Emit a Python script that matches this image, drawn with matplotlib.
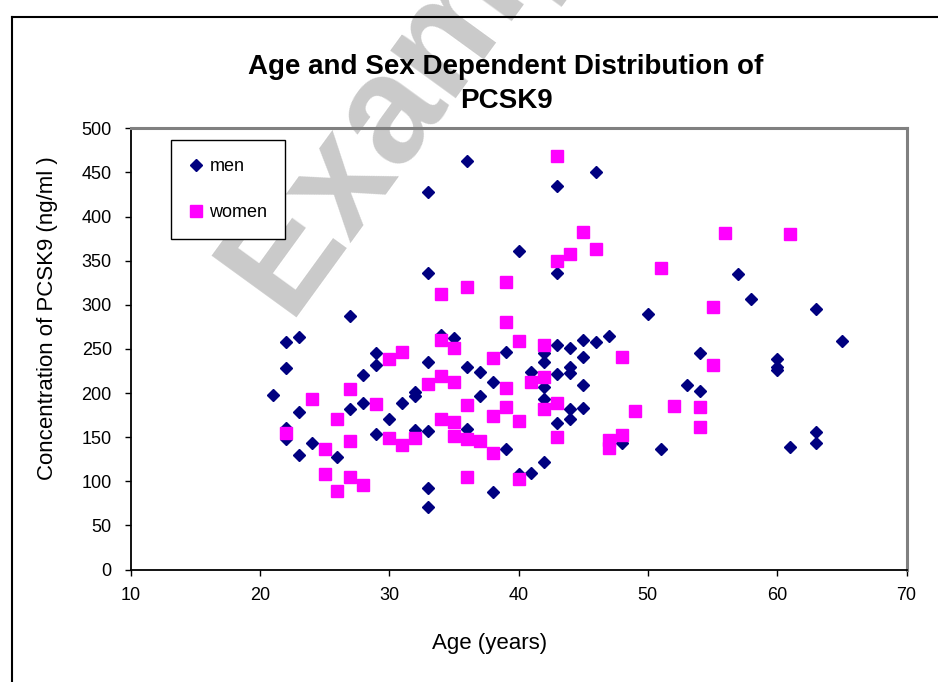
import matplotlib
matplotlib.use("Agg")
import matplotlib.pyplot as plt
from matplotlib.lines import Line2D

# ---------------- data ----------------
men_age = [21, 22, 22, 22, 22, 23, 23, 23, 24, 26, 27, 27, 28, 28, 29, 29, 29, 30, 31,
           32, 32, 32, 33, 33, 33, 33, 33, 33, 34, 35, 36, 36, 36, 37, 37, 38, 38, 39, 39,
           40, 40, 41, 41, 42, 42, 42, 42, 42, 43, 43, 43, 43, 43, 44, 44, 44, 44, 44,
           45, 45, 45, 45, 46, 46, 47, 48, 50, 51, 53, 54, 54, 57, 58, 60, 60, 60, 61,
           63, 63, 63, 65]
men_pcsk9 = [198, 258, 228, 160, 148, 263, 178, 130, 143, 128, 287, 182, 220, 189, 245, 232, 154, 170, 189,
             201, 197, 158, 428, 336, 235, 157, 92, 71, 266, 262, 463, 229, 159, 224, 197, 213, 88, 247, 136,
             361, 108, 224, 109, 245, 235, 207, 193, 122, 435, 336, 254, 221, 166, 251, 230, 223, 182, 171,
             260, 241, 209, 183, 450, 258, 265, 143, 290, 137, 209, 245, 202, 335, 307, 239, 229, 226, 139,
             295, 156, 143, 259]

women_age = [22, 24, 25, 25, 26, 26, 27, 27, 27, 28, 29, 30, 30, 31, 31, 32, 33, 34, 34, 34, 34,
             35, 35, 35, 35, 36, 36, 36, 36, 37, 38, 38, 38, 39, 39, 39, 39, 40, 40, 40, 41,
             42, 42, 42, 43, 43, 43, 43, 44, 45, 46, 47, 47, 48, 48, 49, 51, 52, 54, 54,
             55, 55, 56, 61]
women_pcsk9 = [155, 193, 136, 108, 170, 89, 205, 146, 105, 96, 188, 238, 149, 246, 141, 149, 210, 312, 260, 219, 171,
               251, 212, 167, 151, 320, 186, 148, 105, 146, 240, 174, 132, 326, 281, 206, 184, 259, 168, 103, 212,
               254, 218, 182, 469, 350, 189, 150, 358, 383, 363, 147, 138, 241, 152, 180, 342, 185, 184, 162,
               298, 232, 381, 380]

x_ticks = [10, 20, 30, 40, 50, 60, 70]
y_ticks = [0, 50, 100, 150, 200, 250, 300, 350, 400, 450, 500]

title = "Age and Sex Dependent Distribution of\nPCSK9"
xlabel = "Age (years)"
ylabel = "Concentration of PCSK9 (ng/ml )"

# ---------------- style ----------------
plt.rcParams['font.family'] = ['Liberation Sans', 'DejaVu Sans']

W, H = 938, 682
fig = plt.figure(figsize=(W / 100, H / 100), dpi=100)
fig.patch.set_facecolor('white')

def fx(px):
    return px / W

def fy(py):
    return 1 - py / H

# watermark
fig.text(fx(440), fy(40), "Example", fontsize=110, fontweight='bold', color='#cacaca',
         rotation=54, ha='center', va='center', zorder=-5)

# outer frame (left and top edges visible)
fig.add_artist(Line2D([fx(11.5), fx(11.5)], [fy(17), 0], color='black', lw=1.5, transform=fig.transFigure))
fig.add_artist(Line2D([fx(11.5), 1], [fy(17), fy(17)], color='black', lw=1.5, transform=fig.transFigure))

ax = fig.add_axes([fx(130.5), fy(569.5), fx(906.5) - fx(130.5), fy(128.3) - fy(569.5)])
ax.set_facecolor('none')

ax.plot(men_age, men_pcsk9, linestyle='none', marker='D', markersize=6.6,
        color='#000080', markeredgecolor='#000080', label='men', zorder=3)
ax.plot(women_age, women_pcsk9, linestyle='none', marker='s', markersize=8.4,
        color='#FF00FF', markeredgecolor='#FF00FF', label='women', zorder=3)

ax.set_xlim(10, 70)
ax.set_ylim(0, 500)
ax.set_xticks(x_ticks)
ax.set_yticks(y_ticks)
ax.tick_params(axis='both', labelsize=13, direction='out', length=4.5, width=1, colors='black')
ax.tick_params(axis='y', pad=9)
ax.tick_params(axis='x', pad=8)

for s in ['left', 'bottom']:
    ax.spines[s].set_color('black')
    ax.spines[s].set_linewidth(1.3)
for s in ['top', 'right']:
    ax.spines[s].set_color('#808080')
    ax.spines[s].set_linewidth(2.2)

# title and axis labels
fig.text(fx(506), fy(84), title, fontsize=20, fontweight='bold', ha='center', va='center',
         linespacing=1.4)
fig.text(fx(490), fy(643), xlabel, fontsize=16, ha='center', va='center')
fig.text(fx(47), fy(318), ylabel, fontsize=16, ha='center', va='center', rotation=90)

# legend
leg = ax.legend(loc='upper left', bbox_to_anchor=(fx(170.5), fy(140)), bbox_transform=fig.transFigure,
                frameon=True, fancybox=False, edgecolor='black', framealpha=1, fontsize=13,
                handlelength=0.8, handletextpad=0.35, labelspacing=1.6, borderpad=1.0,
                borderaxespad=0)
leg.get_frame().set_linewidth(1.0)

fig.savefig("out.png", dpi=100, facecolor='white')
